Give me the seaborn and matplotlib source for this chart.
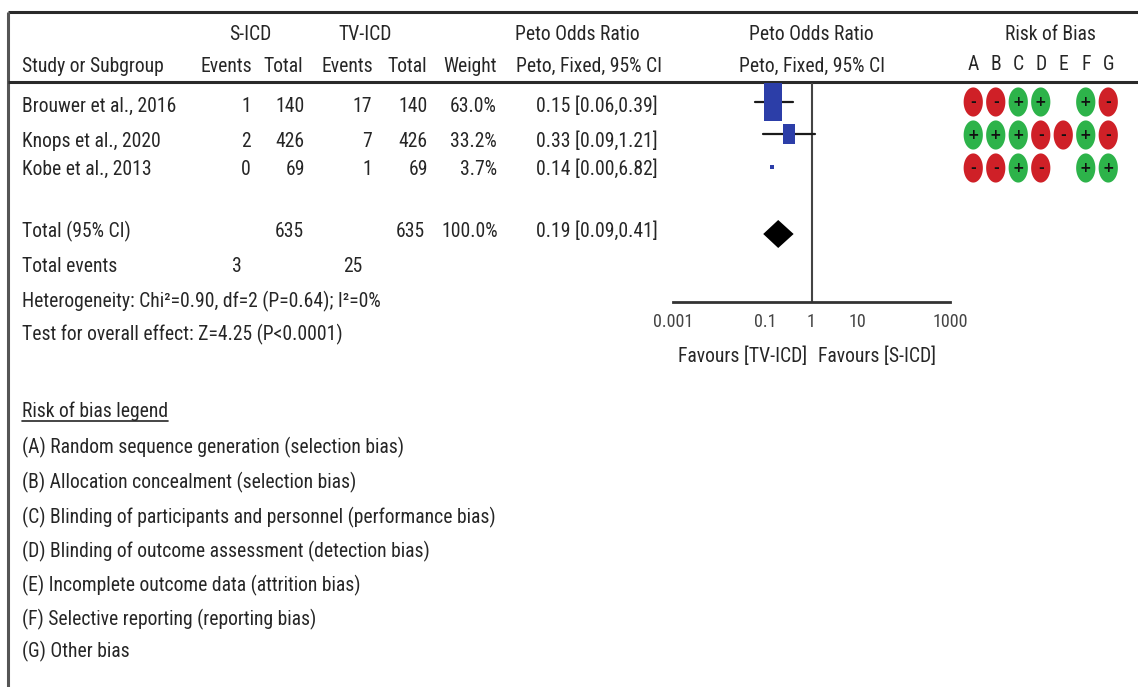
import matplotlib
matplotlib.use("Agg")
import matplotlib.pyplot as plt
from matplotlib import font_manager as fm
from matplotlib.font_manager import FontProperties
from matplotlib.path import Path
import numpy as np
import pandas as pd
import seaborn as sns

# ---------------- data ----------------
studies = ["Brouwer et al., 2016", "Knops et al., 2020", "Kobe et al., 2013"]
sicd_events = [1, 2, 0]
sicd_total = [140, 426, 69]
tvicd_events = [17, 7, 1]
tvicd_total = [140, 426, 69]
weights = [63.0, 33.2, 3.7]
peto_or = [0.15, 0.33, 0.14]
ci_low = [0.06, 0.09, 0.00]
ci_high = [0.39, 1.21, 6.82]

total_label = "Total (95% CI)"
total_sicd = 635
total_tvicd = 635
total_weight = 100.0
total_or = 0.19
total_low = 0.09
total_high = 0.41
events_sicd = 3
events_tvicd = 25

heterogeneity = "Heterogeneity: Chi\u00b2=0.90, df=2 (P=0.64); I\u00b2=0%"
overall_test = "Test for overall effect: Z=4.25 (P<0.0001)"

axis_ticks = [0.001, 0.1, 1, 10, 1000]
axis_tick_labels = ["0.001", "0.1", "1", "10", "1000"]
favours_left = "Favours [TV-ICD]"
favours_right = "Favours [S-ICD]"

rob_domains = ["A", "B", "C", "D", "E", "F", "G"]
rob_judgements = [
    ["-", "-", "+", "+", "", "+", "-"],
    ["+", "+", "+", "-", "-", "+", "-"],
    ["-", "-", "+", "-", "", "+", "+"],
]
rob_legend_title = "Risk of bias legend"
rob_legend = [
    "(A) Random sequence generation (selection bias)",
    "(B) Allocation concealment (selection bias)",
    "(C) Blinding of participants and personnel (performance bias)",
    "(D) Blinding of outcome assessment (detection bias)",
    "(E) Incomplete outcome data (attrition bias)",
    "(F) Selective reporting (reporting bias)",
    "(G) Other bias",
]

# ---------------- font choice (prefer a narrow sans) ----------------
sns.set_theme(style="white")


def pick_font():
    entries = fm.fontManager.ttflist
    for f in entries:
        if f.name == "Liberation Sans Narrow" and f.style == "normal" and f.weight in (400, "normal", "regular"):
            return FontProperties(fname=f.fname)
    for fam in ["Roboto Condensed", "Open Sans Condensed", "Noto Sans Condensed", "DejaVu Sans Condensed"]:
        for f in entries:
            if f.name == fam and f.style == "normal" and f.weight in (400, "normal", "regular"):
                return FontProperties(fname=f.fname)
    for fam in ["Liberation Sans", "Roboto", "Noto Sans", "Open Sans", "DejaVu Sans"]:
        for f in entries:
            if (f.name == fam and f.style == "normal" and f.weight in (400, "normal", "regular")
                    and f.stretch in ("condensed", "semi-condensed", "extra-condensed")):
                return FontProperties(fname=f.fname)
    return None


FP = pick_font()
if FP is None:
    plt.rcParams["font.family"] = ["Liberation Sans", "DejaVu Sans"]
    FP = FontProperties(family=["Liberation Sans", "DejaVu Sans"])
TXT = "#262626"
W, H = 1138, 687

fig = plt.figure(figsize=(W / 100, H / 100), dpi=100)
fig.patch.set_facecolor("white")
ax0 = fig.add_axes([0, 0, 1, 1])
ax0.set_xlim(0, W)
ax0.set_ylim(H, 0)
ax0.axis("off")

# fit font size so the longest legend line has the reference width (~473 px)
renderer = fig.canvas.get_renderer()
probe = ax0.text(0, 0, rob_legend[2], fontproperties=FP, fontsize=10)
pw = probe.get_window_extent(renderer).width
probe.remove()
FS = 10 * 473 / pw


def t(x, y, s, ha="left", **kw):
    fp = FP.copy()
    fp.set_size(kw.pop("size", FS))
    return ax0.text(x, y, s, ha=ha, va="baseline", fontproperties=fp, color=TXT, **kw)


# frame lines
ax0.plot([8, W], [12, 12], color="#2a2a2a", lw=2.2, solid_capstyle="butt")
ax0.plot([8, 8], [12, H], color="#555555", lw=2.2, solid_capstyle="butt")
ax0.plot([8, W], [82, 82], color="#2a2a2a", lw=2.2, solid_capstyle="butt")

# header
hb1, hb2 = 40, 72
t(250, hb1, "S-ICD", ha="center")
t(365, hb1, "TV-ICD", ha="center")
t(577, hb1, "Peto Odds Ratio", ha="center")
t(811, hb1, "Peto Odds Ratio", ha="center")
t(1050, hb1, "Risk of Bias", ha="center")
t(22, hb2, "Study or Subgroup")
t(252, hb2, "Events", ha="right")
t(303, hb2, "Total", ha="right")
t(373, hb2, "Events", ha="right")
t(427, hb2, "Total", ha="right")
t(497, hb2, "Weight", ha="right")
t(589, hb2, "Peto, Fixed, 95% CI", ha="center")
t(812, hb2, "Peto, Fixed, 95% CI", ha="center")

# study rows
row_base = [112, 147, 175]
for i, name in enumerate(studies):
    b = row_base[i]
    t(22, b, name)
    t(251, b, f"{sicd_events[i]}", ha="right")
    t(305, b, f"{sicd_total[i]}", ha="right")
    t(372, b, f"{tvicd_events[i]}", ha="right")
    t(428, b, f"{tvicd_total[i]}", ha="right")
    t(497, b, f"{weights[i]:.1f}%", ha="right")
    t(658, b, f"{peto_or[i]:.2f} [{ci_low[i]:.2f},{ci_high[i]:.2f}]", ha="right")

t(22, 237, total_label)
t(304, 237, f"{total_sicd}", ha="right")
t(425, 237, f"{total_tvicd}", ha="right")
t(498, 237, f"{total_weight:.1f}%", ha="right")
t(658, 237, f"{total_or:.2f} [{total_low:.2f},{total_high:.2f}]", ha="right")
t(22, 272, "Total events")
t(242, 272, f"{events_sicd}", ha="right")
t(362, 272, f"{events_tvicd}", ha="right")
t(22, 307, heterogeneity)
t(22, 340, overall_test)

# risk of bias legend
ttl = t(22, 417, rob_legend_title)
leg_base = [453, 488, 523, 557, 591, 625, 657]
for b, s in zip(leg_base, rob_legend):
    t(22, b, s)

# ---------------- forest plot ----------------
fx0, fx1, fy0, fy1 = 673, 950, 83, 302
axf = fig.add_axes([fx0 / W, 1 - fy1 / H, (fx1 - fx0) / W, (fy1 - fy0) / H])
axf.set_xscale("log")
axf.set_xlim(0.001, 1000)
axf.set_ylim(fy1, fy0)
axf.set_facecolor("none")
for s in ["top", "right", "left"]:
    axf.spines[s].set_visible(False)
axf.spines["bottom"].set_color("#333333")
axf.spines["bottom"].set_linewidth(2.0)
axf.set_xticks(axis_ticks)
tfp = FP.copy()
tfp.set_size(FS * 0.92)
axf.set_xticklabels(axis_tick_labels, fontproperties=tfp, color="#444444")
axf.minorticks_off()
axf.tick_params(axis="x", direction="inout", length=12, width=1.6, color="#333333", pad=2)
axf.set_yticks([])
axf.axvline(1, color="#444444", lw=1.5)

row_mid = [102, 134, 167]
blue = "#2C3EA8"
for i in range(len(studies)):
    if i < 2:
        axf.plot([ci_low[i], ci_high[i]], [row_mid[i], row_mid[i]], color="#1a1a1a", lw=1.6)
    wpx = 2.2 * np.sqrt(weights[i])
    hpx = max(0.6 * weights[i], wpx)
    m = max(wpx, hpx)
    verts = [(-wpx / 2, -hpx / 2), (wpx / 2, -hpx / 2), (wpx / 2, hpx / 2), (-wpx / 2, hpx / 2), (-wpx / 2, -hpx / 2)]
    axf.plot([peto_or[i]], [row_mid[i]], marker=verts, markersize=m * 0.72,
             color=blue, markeredgewidth=0, linestyle="none")

dy = 14
axf.fill([total_low, total_or, total_high, total_or],
         [234, 234 - dy, 234, 234 + dy], color="black", lw=0)

t(743, 362, favours_left, ha="center")
t(877, 362, favours_right, ha="center")

# ---------------- risk of bias dots ----------------
rows = []
for i, name in enumerate(studies):
    for j, d in enumerate(rob_domains):
        if rob_judgements[i][j]:
            rows.append({"study": i, "domain": j, "j": rob_judgements[i][j]})
rob_df = pd.DataFrame(rows)

rx0, rx1 = 962, 1119.5
ry0, ry1 = 85.5, 184.5
axr = fig.add_axes([rx0 / W, 1 - ry1 / H, (rx1 - rx0) / W, (ry1 - ry0) / H])
axr.set_facecolor("none")
theta = np.linspace(0, 2 * np.pi, 60)
ell = Path(np.column_stack([0.33 * np.cos(theta), 0.5 * np.sin(theta)]))
sns.scatterplot(data=rob_df, x="domain", y="study", hue="j",
                palette={"+": "#2DB34A", "-": "#CF2027"}, marker=ell, s=440,
                linewidth=0, legend=False, ax=axr)
for _, r in rob_df.iterrows():
    axr.text(r["domain"], r["study"], r["j"], ha="center", va="center",
             fontsize=10, color="#111111", fontweight="bold", family="DejaVu Sans")
axr.set_xlim(-0.5, len(rob_domains) - 0.5)
axr.set_ylim(len(studies) - 0.5, -0.5)
axr.set_xticks(range(len(rob_domains)))
lfp = FP.copy()
lfp.set_size(FS)
axr.set_xticklabels(rob_domains, fontproperties=lfp, color=TXT)
axr.xaxis.tick_top()
axr.tick_params(axis="x", length=0, pad=8)
axr.set_yticks([])
axr.set_xlabel("")
axr.set_ylabel("")
for s in axr.spines.values():
    s.set_visible(False)

# underline for legend title
fig.canvas.draw()
bb = ttl.get_window_extent()
inv = ax0.transData.inverted()
(x_a, _), (x_b, _) = inv.transform([(bb.x0, bb.y0), (bb.x1, bb.y0)])
ax0.plot([x_a, x_b], [421, 421], color=TXT, lw=1.2)

fig.savefig("out.png", dpi=100, facecolor="white")
